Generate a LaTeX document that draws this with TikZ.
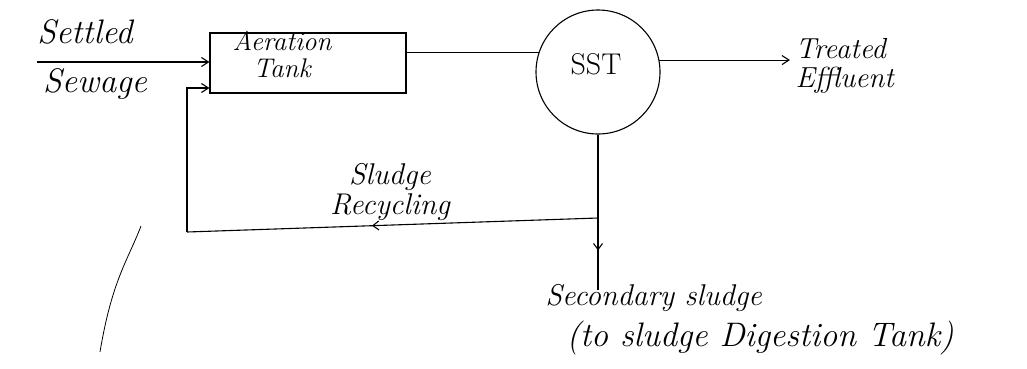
\documentclass[tikz,border=0pt]{standalone}
\usetikzlibrary{arrows.meta,decorations.markings}
\begin{document}
\begin{tikzpicture}[x=1pt,y=-1pt,
  line width=1.1pt,
  lbl/.style={font=\fontsize{#1}{#1}\selectfont\itshape, inner sep=0pt, align=center},
  lbl/.default=27,
  tip/.style={-{Straight Barb[length=7pt,width=9pt]}},
  midleft/.style={postaction={decorate},decoration={markings,mark=at position #1 with {\arrow{Straight Barb[length=6pt,width=9pt]}}}}
]
\useasboundingbox (0,0) rectangle (1027,368);
% nodes
\node[draw, minimum width=196pt, minimum height=60pt, inner sep=0pt] (tank) at (308,63) {};
\node[lbl=27] (tanktext) at (282,54) {Aeration\\Tank};
\node[draw, circle, minimum size=124pt, inner sep=0pt] (sst) at (598,72) {};
\node[font=\fontsize{30}{30}\selectfont, inner sep=0pt] (ssttext) at (596,64) {SST};
\node[lbl=34] (settled) at (85,32) {Settled};
\node[lbl=34] (sewage) at (95,84) {Sewage};
\node[lbl=29, align=left, anchor=west] (treated) at (795,66) {Treated\\Effluent};
\node[lbl=30] (recyc) at (390,192) {Sludge\\Recycling};
\node[lbl=30, anchor=west] (sec) at (545,298) {Secondary sludge};
\node[lbl=34, anchor=west] (dig) at (566,338) {(to sludge Digestion Tank)};
% coordinates
\coordinate (in) at (37,62);
\coordinate (out) at (790,60);
\coordinate (j) at (598,218);
\coordinate (c) at (187,232);
\coordinate (cb) at (187,88);
\coordinate (down) at (598,290);
% connectors
\draw[tip] (in) -- (in -| tank.west);
\draw (sst.162 -| tank.east) -- (sst.162);
\draw[tip] (sst.11) -- (sst.11 -| out);
\draw (sst.south) -- (j);
\draw[midleft=0.45] (j) -- (down);
\draw[midleft=0.55] (j) -- (c);
\draw[tip] (c) -- (cb) -- (cb -| tank.west);
% stray stroke
\draw[line width=0.8pt] (141,226) .. controls (128,260) and (112,280) .. (100,352);
\end{tikzpicture}
\end{document}
